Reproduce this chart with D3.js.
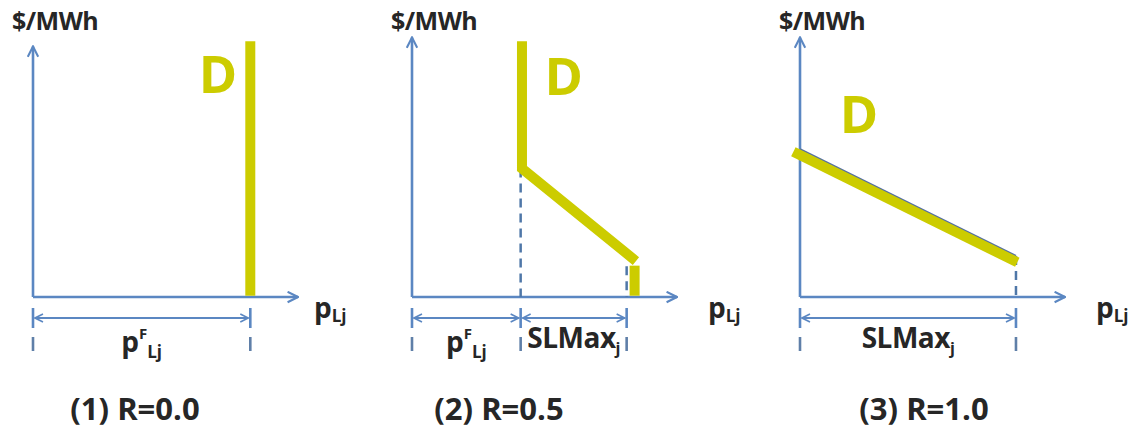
<!DOCTYPE html>
<html>
<head>
<meta charset="utf-8">
<script src="https://cdn.jsdelivr.net/npm/d3@7"></script>
<style>
  body { margin: 0; background: #fff; }
  text { font-family: "Open Sans", "Liberation Sans", sans-serif; font-weight: 700; fill: #262626; }
</style>
</head>
<body>
<svg width="1128" height="429"></svg>
<script>
// panel captions
const titles = ["(1) R=0.0", "(2) R=0.5", "(3) R=1.0"];
// y-axis top (in value units) for each panel
const axisTops = [9.75, 10.1, 10.1];
// demand curve D, one list of segments per panel, [quantity, price]
const demand1 = [[[8.2, 0.05], [8.2, 9.95]]];
const demand2 = [[[4.15, 9.95], [4.15, 5.0], [8.45, 1.4]], [[8.4, 1.22], [8.4, 0.05]]];
const demand3 = [[[-0.25, 5.65], [8.2, 1.35]]];
// thin blue line under the slope in panel 3
const slope3 = [[0, 5.75], [8.15, 1.6]];
// dashed guide lines [x, top]
const guides = [[], [[4.1, 5.0], [8.1, 1.2]], [[8.15, 1.6]]];
// dimension spans along the quantity axis
const spans = [[[0, 8.2]], [[0, 4.1], [4.1, 8.1]], [[0, 8.15]]];
const spanLabels = [["pF"], ["pF", "SLMax"], ["SLMax"]];
// D letter positions [x, y] in value units
const dLabels = [[6.25, 7.95], [5.0, 7.85], [1.5, 6.4]];

const demands = [demand1, demand2, demand3];
const origins = [33, 412, 800];
const blue = "#5b87c2", yellow = "#cccc00";

const svg = d3.select("svg");
const defs = svg.append("defs");
defs.append("marker").attr("id", "arr").attr("viewBox", "0 0 10 10")
  .attr("refX", 9).attr("refY", 5).attr("markerWidth", 5).attr("markerHeight", 5)
  .attr("orient", "auto-start-reverse")
  .append("path").attr("d", "M1,1L9,5L1,9").attr("fill", "none").attr("stroke", blue).attr("stroke-width", 1.6);

const y = d3.scaleLinear().domain([0, 10]).range([297, 40]);

origins.forEach((ox, i) => {
  const x = d3.scaleLinear().domain([0, 10]).range([ox, ox + 265]);
  const g = svg.append("g");
  const line = d3.line().x(d => x(d[0])).y(d => y(d[1]));

  // axes
  g.append("path").attr("d", line([[0, 0], [0, axisTops[i]]]))
    .attr("stroke", blue).attr("stroke-width", 2.6).attr("fill", "none").attr("marker-end", "url(#arr)");
  g.append("path").attr("d", line([[0, 0], [10, 0]]))
    .attr("stroke", blue).attr("stroke-width", 2.6).attr("fill", "none").attr("marker-end", "url(#arr)");

  // axis titles
  g.append("text").attr("x", ox - 21).attr("y", 30).attr("font-size", 25).attr("letter-spacing", -0.5).text("$/MWh");
  const pl = g.append("text").attr("x", x(10) + [16, 31, 31][i]).attr("y", 318).attr("font-size", 28);
  pl.append("tspan").text("p");
  pl.append("tspan").attr("font-size", 17).attr("dy", 4).text("Lj");

  // dashed guides
  guides[i].forEach(gd => {
    g.append("path").attr("d", line([[gd[0], gd[1]], [gd[0], 0]]))
      .attr("stroke", "#4f77a8").attr("stroke-width", 2.5).attr("stroke-dasharray", "9,6").attr("fill", "none");
  });

  // dimension spans
  const dimY = 318;
  const ends = new Set();
  spans[i].forEach((s, k) => {
    g.append("line").attr("x1", x(s[0]) + 2).attr("x2", x(s[1]) - 2)
      .attr("y1", dimY).attr("y2", dimY).attr("stroke", blue).attr("stroke-width", 2)
      .attr("marker-start", "url(#arr)").attr("marker-end", "url(#arr)");
    ends.add(s[0]); ends.add(s[1]);
    const cx = (x(s[0]) + x(s[1])) / 2;
    const t = g.append("text").attr("x", cx).attr("text-anchor", "middle").attr("font-size", 28);
    if (spanLabels[i][k] === "pF") {
      t.attr("y", 352);
      t.append("tspan").text("p");
      t.append("tspan").attr("font-size", 15).attr("dy", -13).text("F");
      t.append("tspan").attr("font-size", 17).attr("dy", 19).text("Lj");
    } else {
      t.attr("y", 348).attr("letter-spacing", -0.5);
      t.append("tspan").text("SLMax");
      t.append("tspan").attr("font-size", 16).attr("dy", 6).text("j");
    }
  });
  ends.forEach(e => {
    g.append("line").attr("x1", x(e)).attr("x2", x(e)).attr("y1", 308).attr("y2", 328)
      .attr("stroke", blue).attr("stroke-width", 2.6);
    g.append("line").attr("x1", x(e)).attr("x2", x(e)).attr("y1", 337).attr("y2", 351)
      .attr("stroke", "#5f7fa8").attr("stroke-width", 2.6);
  });

  if (i === 2) {
    g.append("path").attr("d", line(slope3)).attr("stroke", "#5570a0").attr("stroke-width", 2).attr("fill", "none");
  }

  // demand curve
  demands[i].forEach(seg => {
    g.append("path").attr("d", line(seg)).attr("stroke", yellow).attr("stroke-width", 10)
      .attr("fill", "none").attr("stroke-linejoin", "miter");
  });

  g.append("text").attr("x", x(dLabels[i][0])).attr("y", y(dLabels[i][1]))
    .attr("font-size", 52).style("fill", yellow).text("D");

  // caption
  g.append("text").attr("x", ox + [102, 87, 124][i]).attr("y", 420).attr("text-anchor", "middle")
    .attr("font-size", 31).text(titles[i]);
});
</script>
</body>
</html>
